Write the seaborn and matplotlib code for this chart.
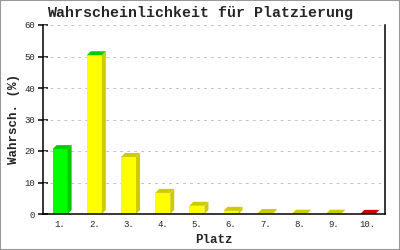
import matplotlib
matplotlib.use("Agg")
import matplotlib.pyplot as plt
from matplotlib.patches import Polygon, Rectangle
import seaborn as sns
import pandas as pd

places = ["1.", "2.", "3.", "4.", "5.", "6.", "7.", "8.", "9.", "10."]
probabilities = [20.6, 50.4, 18.1, 6.7, 2.6, 1.0, 0.3, 0.1, 0.1, 0.05]
front_colors = ["#00ff00", "#ffff00", "#ffff00", "#ffff00", "#ffff00",
                "#ffff00", "#ffff00", "#ffff00", "#ffff00", "#ff0000"]
top_colors = ["#00cc00", "#00cc00", "#cccc00", "#cccc00", "#cccc00",
              "#cccc00", "#cccc00", "#cccc00", "#cccc00", "#cc0000"]
side_colors = ["#00cc00", "#cccc00", "#cccc00", "#cccc00", "#cccc00",
               "#cccc00", "#cccc00", "#cccc00", "#cccc00", "#cc0000"]
y_ticks = [0, 10, 20, 30, 40, 50, 60]

df = pd.DataFrame({"Platz": places, "Wahrsch": probabilities})

sns.set_theme(style="white")
mono = ["Liberation Mono", "DejaVu Sans Mono"]
plt.rcParams["font.family"] = mono

W, H = 400, 250
fig = plt.figure(figsize=(W / 100, H / 100), dpi=100)
fig.patch.set_facecolor("white")
ax = fig.add_axes([43 / W, 1 - 214 / H, (385 - 43) / W, (214 - 25) / H])
ax.set_facecolor("white")

sns.barplot(data=df, x="Platz", y="Wahrsch", hue="Platz", palette=front_colors,
            legend=False, width=0.44, saturation=1, ax=ax, zorder=3,
            linewidth=0)

ax.set_ylim(0, 60)
ax.set_xlim(-0.5, len(places) - 0.5)
ax.set_yticks(y_ticks)
ax.set_yticklabels([str(t) for t in y_ticks])

# 3D faces derived from the bars
fig.canvas.draw()
bbox = ax.get_window_extent()
x0l, x1l = ax.get_xlim()
y0l, y1l = ax.get_ylim()
depth_px = 4
dx = depth_px * (x1l - x0l) / bbox.width
dy = depth_px * (y1l - y0l) / bbox.height
bars = [p for p in ax.patches if isinstance(p, Rectangle)]
for i, p in enumerate(bars):
    x0 = p.get_x()
    w = p.get_width()
    h = p.get_height()
    top = Polygon([(x0, h), (x0 + w, h), (x0 + w + dx, h + dy), (x0 + dx, h + dy)],
                  closed=True, facecolor=top_colors[i], edgecolor="none", zorder=4)
    side = Polygon([(x0 + w, 0), (x0 + w + dx, dy), (x0 + w + dx, h + dy), (x0 + w, h)],
                   closed=True, facecolor=side_colors[i], edgecolor="none", zorder=4)
    ax.add_patch(side)
    ax.add_patch(top)

for t in y_ticks[1:]:
    ax.axhline(t, color="#c4c4c4", linewidth=0.75, linestyle=(0, (2.7, 4)), zorder=1)

for s in ["left", "bottom", "right"]:
    ax.spines[s].set_visible(True)
    ax.spines[s].set_color("black")
    ax.spines[s].set_linewidth(1.1)
    ax.spines[s].set_zorder(5)
ax.spines["top"].set_visible(False)

ax.tick_params(axis="y", direction="inout", length=7, width=1.1, color="black",
               pad=2, labelsize=6.5, left=True)
ax.tick_params(axis="x", length=0, pad=4, labelsize=6.5)
for lab in ax.get_xticklabels() + ax.get_yticklabels():
    lab.set_family(mono)

ax.set_xlabel("Platz", fontsize=9, fontweight="bold", family=mono, labelpad=4)
ax.set_ylabel("Wahrsch. (%)", fontsize=9, fontweight="bold", family=mono, labelpad=3)

fig.text(0.5, 1 - 13 / H, "Wahrscheinlichkeit für Platzierung", ha="center",
         va="center", fontsize=10.8, fontweight="bold", family=mono)

fig.patches.append(Rectangle((0, 0), 1, 1, transform=fig.transFigure, fill=False,
                             edgecolor="#999999", linewidth=1.5, zorder=10))

fig.savefig("out.png", dpi=100)
